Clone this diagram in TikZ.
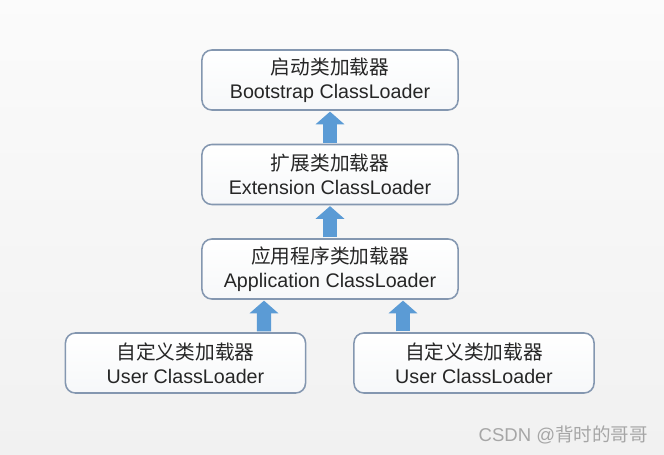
\documentclass[tikz,border=0pt]{standalone}
\usepackage{fontspec}
\setmainfont{Liberation Sans}
\newfontfamily\cjk{Noto Sans CJK SC}
\usepackage{tikz}
\usetikzlibrary{arrows.meta,calc}
\definecolor{zeminGri}{HTML}{F1F1F1}
\definecolor{kutuKenar}{HTML}{8497B0}
\definecolor{okMavi}{HTML}{5B9BD5}
\definecolor{yaziGri}{HTML}{262626}
\definecolor{imzaGri}{HTML}{A6A6A6}
\tikzset{
  yukleyici/.style={draw=kutuKenar,line width=1.1pt,rounded corners=7pt,
    top color=white,bottom color=white!93!kutuKenar,
    minimum width=6.4cm,minimum height=1.5cm,align=center,
    text=yaziGri,font=\fontsize{14}{17}\selectfont},
  kullanici/.style={yukleyici,minimum width=6cm},
  blokOk/.style={okMavi,line width=10pt,-{Triangle[width=20pt,length=9pt]},shorten <=0.6pt,shorten >=0.6pt}
}

\begin{document}
\begin{tikzpicture}[x=0.025cm,y=-0.025cm]
\fill[top color=white!70!zeminGri,bottom color=zeminGri] (0,0) rectangle (664,454);
\useasboundingbox (0,0) rectangle (664,454);
\node[yukleyici] (boot) at (330,80) {{\cjk 启动类加载器}\\Bootstrap ClassLoader};
\node[yukleyici] (ext) at (330,174.5) {{\cjk 扩展类加载器}\\Extension ClassLoader};
\node[yukleyici] (app) at (330,269) {{\cjk 应用程序类加载器}\\Application ClassLoader};
\node[kullanici] (user1) at (185.5,363) {{\cjk 自定义类加载器}\\User ClassLoader};
\node[kullanici] (user2) at (474,363) {{\cjk 自定义类加载器}\\User ClassLoader};
% ebeveyn yonunde oklar
\draw[blokOk] (ext.north) -- (boot.south);
\draw[blokOk] (app.north) -- (ext.south);
\draw[blokOk] ([xshift=78.5*0.025cm]user1.north) -- ([xshift=-66*0.025cm]app.south);
\draw[blokOk] ([xshift=-71*0.025cm]user2.north) -- ([xshift=73*0.025cm]app.south);
\node[imzaGri,anchor=east,font=\fontsize{13.2}{15}\selectfont] (imza) at (653,435) {CSDN @{\cjk 背时的哥哥}};
\end{tikzpicture}
\end{document}
